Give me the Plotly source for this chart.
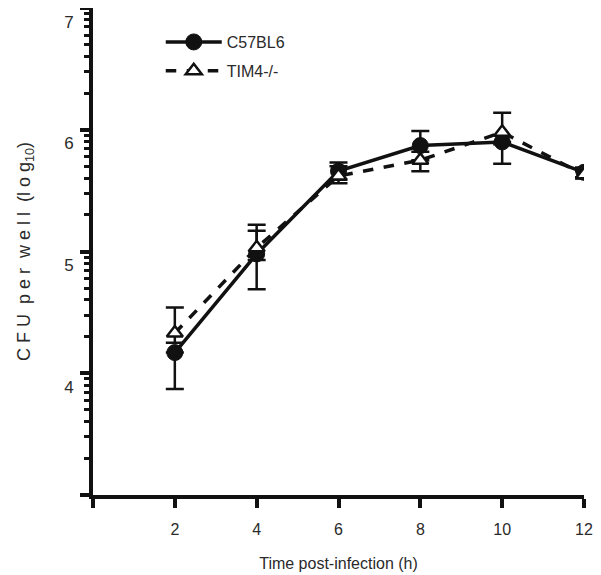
import plotly.graph_objects as go
import math

# Data (log10 CFU per well)
time_h = [2, 4, 6, 8, 10, 12]

c57_mean = [4.17, 4.98, 5.66, 5.87, 5.90, 5.65]
c57_err_up = [0.00, 0.19, 0.07, 0.12, 0.00, 0.04]
c57_err_down = [0.30, 0.29, 0.07, 0.12, 0.18, 0.04]

tim4_mean = [4.33, 5.03, 5.62, 5.75, 5.98, 5.63]
tim4_err_up = [0.21, 0.19, 0.08, 0.07, 0.16, 0.03]
tim4_err_down = [0.08, 0.10, 0.06, 0.09, 0.10, 0.03]

x_tickvals = [0, 2, 4, 6, 8, 10, 12]
x_ticktext = ["", "2", "4", "6", "8", "10", "12"]
y_tickvals = [3, 4, 5, 6, 7]
y_ticktext = ["", "4", "5", "6", "7"]
y_minor = [n + math.log10(k) for n in range(3, 7) for k in range(2, 10)]

INK = "#111111"
TXT = "#2a2a2a"
NB = "\u00a0"

fig = go.Figure()

fig.add_trace(go.Scatter(
    x=time_h, y=c57_mean, name="C57BL6", mode="lines+markers", legendgroup="a",
    line=dict(color=INK, width=3.5),
    marker=dict(symbol="circle", size=16, color=INK, line=dict(color=INK, width=1)),
    error_y=dict(type="data", symmetric=False, array=c57_err_up, arrayminus=c57_err_down,
                 color=INK, thickness=2.5, width=9),
))
fig.add_trace(go.Scatter(
    x=time_h, y=tim4_mean, name="TIM4-/-", mode="lines+markers", legendgroup="b",
    line=dict(color=INK, width=3.5, dash="dash"),
    marker=dict(symbol="triangle-up", size=14, color="white", line=dict(color=INK, width=2.5)),
    error_y=dict(type="data", symmetric=False, array=tim4_err_up, arrayminus=tim4_err_down,
                 color=INK, thickness=2.5, width=9),
))

# page body has an 8px margin, so the figure is offset by 8px right/down
fig.update_layout(
    width=593, height=567,
    margin=dict(l=85, r=17, t=0, b=80),
    paper_bgcolor="white", plot_bgcolor="white",
    font=dict(family="Liberation Sans, Arial, sans-serif", size=16, color=TXT),
    showlegend=True,
    legend=dict(x=0.138, y=0.965, xanchor="left", yanchor="top",
                bgcolor="rgba(0,0,0,0)", font=dict(size=16, color=TXT),
                itemwidth=56, tracegroupgap=5),
)

fig.update_xaxes(
    range=[0, 12], tickmode="array", tickvals=x_tickvals, ticktext=x_ticktext,
    showgrid=False, zeroline=False, automargin=False,
    showline=True, linecolor=INK, linewidth=4,
    ticks="outside", ticklen=9, tickwidth=3.5, tickcolor=INK,
    tickfont=dict(size=16, color=TXT), ticklabeloverflow="allow", ticklabelstandoff=8,
    title=dict(text="Time post-infection (h)", font=dict(size=16, color=TXT), standoff=22),
)
fig.update_yaxes(
    range=[3, 7], tickmode="array", tickvals=y_tickvals, ticktext=y_ticktext,
    showgrid=False, zeroline=False, automargin=False,
    showline=True, linecolor=INK, linewidth=4,
    ticks="outside", ticklen=9, tickwidth=3.5, tickcolor=INK,
    tickfont=dict(size=17, color=TXT), ticklabeloverflow="allow",
    ticklabelposition="outside bottom", ticklabelstandoff=12,
    minor=dict(tickvals=y_minor, ticks="outside", ticklen=5, tickwidth=2.5, tickcolor=INK, showgrid=False),
    title=dict(text=f"C F U{NB} p e r{NB} w e l l{NB} (l o g<sub>10</sub>)",
               font=dict(size=18, color=TXT), standoff=30),
)

fig.write_html("out.html")
